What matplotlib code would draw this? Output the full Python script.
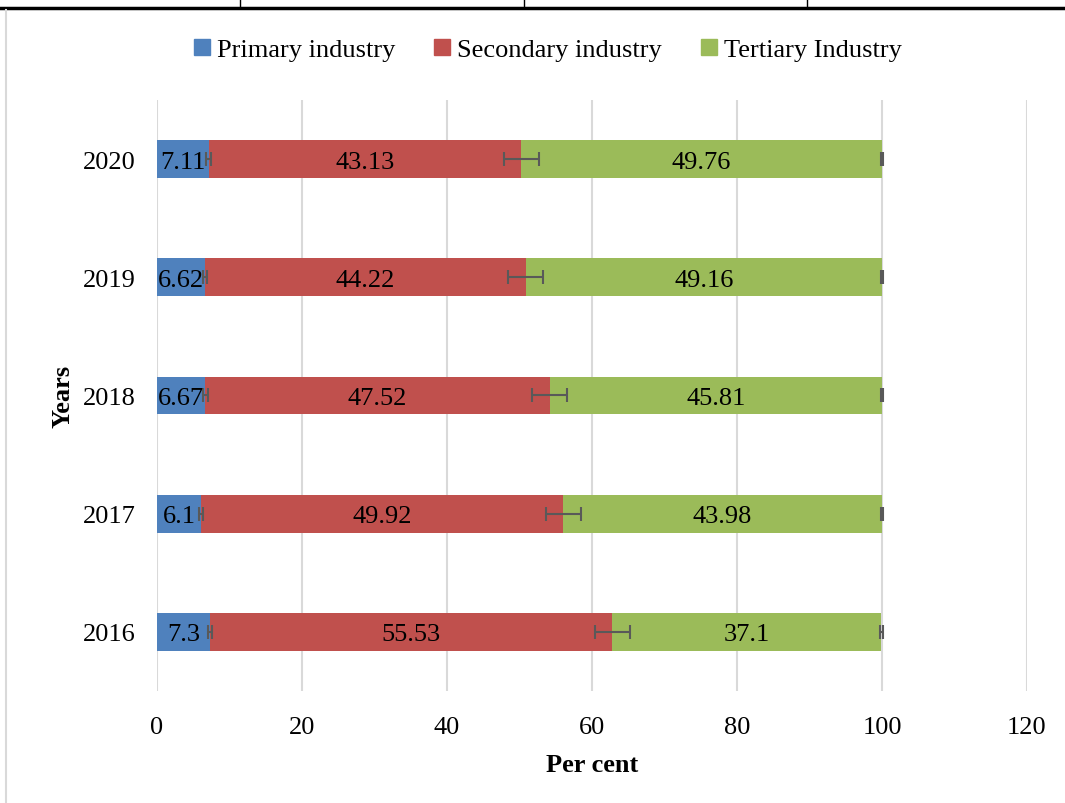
import numpy as np
import matplotlib.pyplot as plt
from matplotlib.lines import Line2D

years = ['2016', '2017', '2018', '2019', '2020']
primary = [7.3, 6.1, 6.67, 6.62, 7.11]
secondary = [55.53, 49.92, 47.52, 44.22, 43.13]
tertiary = [37.1, 43.98, 45.81, 49.16, 49.76]
series_names = ['Primary industry', 'Secondary industry', 'Tertiary Industry']
errors = [0.3, 2.4, 0.15]

colors = ['#4F81BD', '#C0504D', '#9BBB59']

plt.rcParams['font.family'] = ['Liberation Serif', 'DejaVu Serif']

fig = plt.figure(figsize=(10.65, 8.04), dpi=100)
ax = fig.add_axes([0.1474, 0.1393, 0.8169, 0.7351])

y = np.arange(len(years))
left = np.zeros(len(years))
for vals, name, col, err in zip([primary, secondary, tertiary], series_names, colors, errors):
    vals = np.array(vals)
    ax.barh(y, vals, left=left, height=0.32, color=col, label=name, zorder=2)
    ax.errorbar(left + vals, y, xerr=err, fmt='none', ecolor='#595959',
                elinewidth=1.5, capsize=5, capthick=1.5, zorder=3)
    for yi, l, v in zip(y, left, vals):
        ax.text(l + v / 2, yi, f'{v:g}', ha='center', va='center_baseline',
                fontsize=19, zorder=4)
    left = left + vals

ax.set_xlim(0, 120)
ax.set_ylim(-0.5, 4.5)
ax.set_xticks(np.arange(0, 121, 20))
ax.set_yticks(y)
ax.set_yticklabels(years)
ax.tick_params(axis='both', length=0, labelsize=19)
ax.tick_params(axis='y', pad=15.5)
ax.tick_params(axis='x', pad=18)
ax.grid(axis='x', color='#D9D9D9', linewidth=1.5, zorder=0)
for s in ax.spines.values():
    s.set_visible(False)

ax.set_xlabel('Per cent', fontsize=19, fontweight='bold', labelpad=11)
ax.set_ylabel('Years', fontsize=19, fontweight='bold', labelpad=6)

handles = [Line2D([], [], marker='s', linestyle='none', markersize=11,
                  markerfacecolor=c, markeredgecolor=c) for c in colors]
fig.legend(handles, series_names, loc='center', bbox_to_anchor=(0.512, 0.937),
           ncol=3, frameon=False, fontsize=19, handletextpad=0.05,
           columnspacing=1.3, handlelength=1.0)

# fragment of the table above the chart and chart border
fig.add_artist(Line2D([0, 1], [1 - 9 / 804] * 2, color='black', linewidth=2.5))
for xp in [240, 524, 807]:
    fig.add_artist(Line2D([xp / 1065] * 2, [1 - 9 / 804, 1], color='black', linewidth=1))
fig.add_artist(Line2D([6 / 1065] * 2, [0, 1 - 11 / 804], color='#D9D9D9', linewidth=1.5))

fig.savefig('out.png', dpi=100)
